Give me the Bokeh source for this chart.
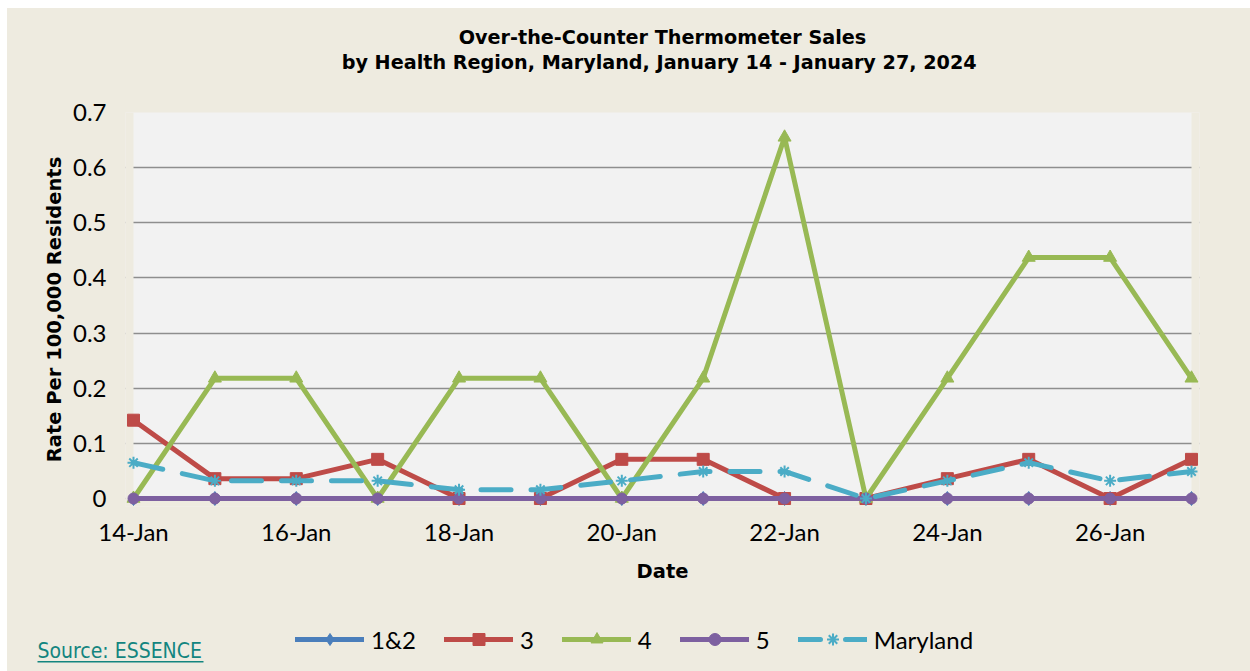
from bokeh.plotting import figure
from bokeh.layouts import column
from bokeh.models import (FixedTicker, Legend, LegendItem, BoxAnnotation, Range1d, Label)
from bokeh.embed import file_html
from bokeh.resources import INLINE

dates = ["14-Jan", "15-Jan", "16-Jan", "17-Jan", "18-Jan", "19-Jan", "20-Jan",
         "21-Jan", "22-Jan", "23-Jan", "24-Jan", "25-Jan", "26-Jan", "27-Jan"]
region_12 = [0, 0, 0, 0, 0, 0, 0, 0, 0, 0, 0, 0, 0, 0]
region_3 = [0.142, 0.036, 0.036, 0.071, 0, 0, 0.071, 0.071, 0, 0, 0.036, 0.071, 0, 0.071]
region_4 = [0, 0.218, 0.218, 0, 0.218, 0.218, 0, 0.218, 0.655, 0, 0.218, 0.437, 0.437, 0.218]
region_5 = [0, 0, 0, 0, 0, 0, 0, 0, 0, 0, 0, 0, 0, 0]
maryland = [0.065, 0.032, 0.032, 0.032, 0.016, 0.016, 0.032, 0.049, 0.049, 0, 0.032, 0.065, 0.032, 0.049]
y_ticks = [0, 0.1, 0.2, 0.3, 0.4, 0.5, 0.6, 0.7]
y_tick_labels = ["0", "0.1", "0.2", "0.3", "0.4", "0.5", "0.6", "0.7"]
x_tick_labels = ["14-Jan", "16-Jan", "18-Jan", "20-Jan", "22-Jan", "24-Jan", "26-Jan"]
title_lines = ["Over-the-Counter Thermometer Sales",
               "by Health Region, Maryland, January 14  - January 27, 2024"]

x = [int(d.split("-")[0]) for d in dates]

BG = "#EEEBE0"
TFONT = "DejaVu Sans"
NFONT = "Lato"
TEAL = "#13857F"
XPAD = 0.0983
YPAD = 0.0145
W = 1243


def strip(height):
    f = figure(width=W, height=height, output_backend="svg", toolbar_location=None,
               x_range=Range1d(0, W), y_range=Range1d(0, height),
               x_axis_type=None, y_axis_type=None,
               min_border_left=0, min_border_right=0, min_border_top=0, min_border_bottom=0)
    f.background_fill_color = BG
    f.border_fill_color = BG
    f.outline_line_color = None
    f.xgrid.visible = False
    f.ygrid.visible = False
    f.frame_align = False
    return f


# ---------------- title strip ----------------
ts = strip(88)
for line, ypos in zip(title_lines, (59, 34)):
    ts.add_layout(Label(x=655, y=ypos, x_units="screen", y_units="screen", text=line,
                        text_align="center", text_baseline="middle", text_font=TFONT,
                        text_font_style="bold", text_font_size="19.2px", text_color="black"))

# ---------------- main chart ----------------
p = figure(width=W, height=494, output_backend="svg", toolbar_location=None,
           x_range=Range1d(x[0] - XPAD, x[-1] + XPAD), y_range=Range1d(-YPAD, y_ticks[-1]),
           min_border_left=118, min_border_right=51, min_border_top=16, min_border_bottom=84)
p.frame_align = False
p.background_fill_color = "#F2F2F2"
p.border_fill_color = BG
p.outline_line_color = None

p.xgrid.visible = False
p.ygrid.grid_line_color = "#8E8E8E"
p.ygrid.grid_line_width = 1.5
p.ygrid.ticker = FixedTicker(ticks=y_ticks)

# beige margins around the plot area (so markers at the edges are not cut)
for kw in (dict(right=x[0]), dict(left=x[-1]), dict(top=0)):
    p.add_layout(BoxAnnotation(fill_color=BG, fill_alpha=1, line_color=None,
                               level="underlay", **kw))

p.yaxis.ticker = FixedTicker(ticks=y_ticks)
p.yaxis.major_label_overrides = {t: l for t, l in zip(y_ticks, y_tick_labels)}
p.xaxis.ticker = FixedTicker(ticks=[int(l.split("-")[0]) for l in x_tick_labels])
p.xaxis.major_label_overrides = {int(l.split("-")[0]): l for l in x_tick_labels}
for ax in (p.xaxis[0], p.yaxis[0]):
    ax.axis_line_color = None
    ax.major_tick_line_color = None
    ax.minor_tick_line_color = None
    ax.major_label_text_font = NFONT
    ax.major_label_text_font_size = "24px"
    ax.major_label_text_color = "black"
    ax.axis_label_text_font = TFONT
    ax.axis_label_text_font_style = "bold"
    ax.axis_label_text_font_size = "19.5px"
    ax.axis_label_text_color = "black"
p.yaxis.major_label_standoff = 13
p.xaxis.major_label_standoff = 4
p.yaxis.axis_label = "Rate Per 100,000 Residents"
p.xaxis.axis_label = "Date"
p.yaxis.axis_label_standoff = 4
p.xaxis.axis_label_standoff = 11

series = [
    ("1&2", region_12, "#4A7EBB", "diamond", 14, None, None),
    ("3", region_3, "#BE4B48", "square", 12, None, None),
    ("4", region_4, "#98B954", "triangle", 13, None, None),
    ("5", region_5, "#7D60A0", "circle", 11, None, None),
    ("Maryland", maryland, "#4BACC6", "asterisk", 12, "30 20", "22 25"),
]

# ---------------- legend strip ----------------
lg = strip(81)

items = []
for name, ys, color, marker, size, dash, legend_dash in series:
    kw = {"line_dash": dash} if dash else {}
    p.line(x, ys, line_color=color, line_width=5, line_cap="round", line_join="round", **kw)
    if marker == "asterisk":
        p.scatter(x, ys, marker=marker, size=size, line_color=color, line_width=2)
    else:
        p.scatter(x, ys, marker=marker, size=size, fill_color=color, line_color=color)
    # legend samples (styles only, nothing drawn in the strip)
    kw = {"line_dash": legend_dash} if legend_dash else {}
    ln = lg.line([0], [float("nan")], line_color=color, line_width=5, line_cap="round", **kw)
    if marker == "asterisk":
        mk = lg.scatter([0], [float("nan")], marker=marker, line_color=color, line_width=2)
    else:
        mk = lg.scatter([0], [float("nan")], marker=marker, fill_color=color, line_color=color)
    items.append(LegendItem(label=name, renderers=[ln, mk]))

legend = Legend(items=items, orientation="horizontal", location=(288, 17),
                background_fill_alpha=0, border_line_color=None,
                glyph_width=69, glyph_height=30, label_standoff=7, spacing=28,
                label_width=0, padding=0, margin=0,
                label_text_font=NFONT, label_text_font_size="24px", label_text_color="black")
lg.add_layout(legend, "center")

lg.add_layout(Label(x=30, y=21, x_units="screen", y_units="screen", text="Source: ESSENCE",
                    text_align="left", text_baseline="middle", text_font="DejaVu Sans Condensed",
                    text_font_size="21px", text_color=TEAL))
lg.add_layout(BoxAnnotation(left=30, right=196, bottom=9, top=10.5,
                            left_units="screen", right_units="screen",
                            bottom_units="screen", top_units="screen",
                            fill_color=TEAL, fill_alpha=1, line_color=None))

layout = column(ts, p, lg, spacing=0, margin=(8, 0, 0, 7),
                styles={"background-color": BG})
open("out.html", "w").write(file_html(layout, INLINE))
